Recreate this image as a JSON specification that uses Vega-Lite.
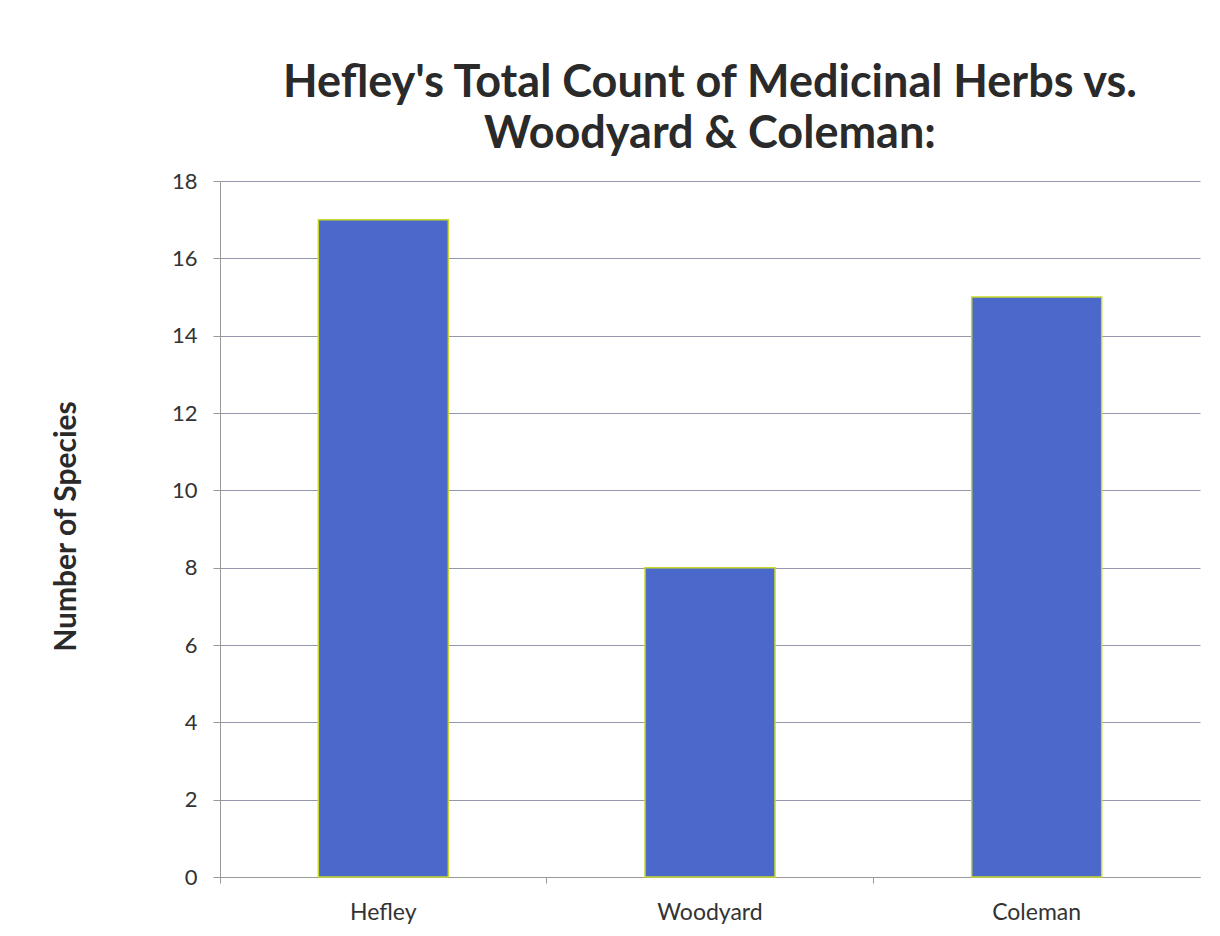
{
  "$schema": "https://vega.github.io/schema/vega-lite/v6.json",
  "autosize": {"type": "none"},
  "width": 980,
  "height": 696,
  "padding": {"left": 220, "top": 181, "right": 20, "bottom": 59},
  "background": "white",
  "title": {
    "text": ["Hefley's Total Count of  Medicinal Herbs vs.", "Woodyard & Coleman:"],
    "fontSize": 45,
    "font": "Lato",
    "fontWeight": "bold",
    "color": "#2a2a2a",
    "lineHeight": 51,
    "anchor": "middle",
    "offset": 13
  },
  "data": {
    "values": [
      {"source": "Hefley", "species": 17},
      {"source": "Woodyard", "species": 8},
      {"source": "Coleman", "species": 15}
    ]
  },
  "mark": {"type": "bar", "size": 130, "color": "#4a69cb", "stroke": "#c9d92a", "strokeWidth": 1.5},
  "encoding": {
    "x": {
      "field": "source",
      "type": "nominal",
      "sort": null,
      "title": null,
      "scale": {"paddingInner": 0, "paddingOuter": 0},
      "axis": {
        "labelAngle": 0,
        "bandPosition": 0,
        "labelFont": "Lato",
        "labelFontSize": 23,
        "labelColor": "#333333",
        "labelPadding": 18,
        "tickSize": 6,
        "tickColor": "#999",
        "domainColor": "#999",
        "grid": false
      }
    },
    "y": {
      "field": "species",
      "type": "quantitative",
      "title": "Number of Species",
      "scale": {"domain": [0, 18]},
      "axis": {
        "values": [0, 2, 4, 6, 8, 10, 12, 14, 16, 18],
        "labelFont": "Lato",
        "labelFontSize": 22,
        "labelColor": "#333333",
        "labelPadding": 16,
        "tickSize": 7,
        "tickColor": "#999",
        "domainColor": "#999",
        "gridColor": "#9597ad",
        "gridWidth": 1.2,
        "titleFont": "Lato",
        "titleFontSize": 30,
        "titleFontWeight": "bold",
        "titleColor": "#2a2a2a",
        "titleAngle": -90,
        "titleBaseline": "middle",
        "titleAlign": "center",
        "titleX": -154,
        "titleY": 345
      }
    }
  },
  "config": {"view": {"stroke": null}}
}
